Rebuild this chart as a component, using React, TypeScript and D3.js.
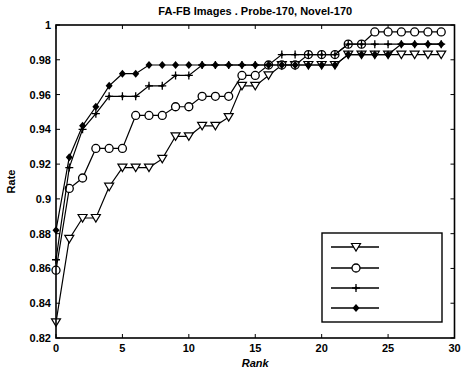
import React from "react";
import * as d3 from "d3";

// rank on the x axis
const ranks = [0, 1, 2, 3, 4, 5, 6, 7, 8, 9, 10, 11, 12, 13, 14, 15, 16, 17, 18, 19, 20, 21, 22, 23, 24, 25, 26, 27, 28, 29];

// recognition rate per method
const triSeries = [0.829, 0.877, 0.889, 0.889, 0.907, 0.918, 0.918, 0.918, 0.923, 0.936, 0.936, 0.942, 0.942, 0.947, 0.965, 0.965, 0.971, 0.977, 0.977, 0.977, 0.977, 0.977, 0.983, 0.983, 0.983, 0.983, 0.983, 0.983, 0.983, 0.983];
const circSeries = [0.859, 0.906, 0.912, 0.929, 0.929, 0.929, 0.948, 0.948, 0.948, 0.953, 0.953, 0.959, 0.959, 0.959, 0.971, 0.971, 0.977, 0.977, 0.977, 0.983, 0.983, 0.983, 0.989, 0.989, 0.996, 0.996, 0.996, 0.996, 0.996, 0.996];
const plusSeries = [0.865, 0.918, 0.940, 0.949, 0.959, 0.959, 0.959, 0.965, 0.965, 0.971, 0.971, 0.977, 0.977, 0.977, 0.977, 0.977, 0.977, 0.983, 0.983, 0.983, 0.983, 0.983, 0.989, 0.989, 0.989, 0.989, 0.989, 0.989, 0.989, 0.989];
const diamSeries = [0.882, 0.924, 0.942, 0.953, 0.965, 0.972, 0.972, 0.977, 0.977, 0.977, 0.977, 0.977, 0.977, 0.977, 0.977, 0.977, 0.977, 0.977, 0.977, 0.977, 0.977, 0.977, 0.983, 0.983, 0.983, 0.983, 0.989, 0.989, 0.989, 0.989];

const xTicks = [0, 5, 10, 15, 20, 25, 30];
const yTicks = [0.82, 0.84, 0.86, 0.88, 0.9, 0.92, 0.94, 0.96, 0.98, 1];

const titleText = "FA-FB Images . Probe-170, Novel-170";

const W = 461;
const H = 370;
const margin = { top: 25, right: 6, bottom: 32, left: 56 };
const font = "'Liberation Sans', Arial, sans-serif";

const Marker = ({ kind, x, y }: { kind: string; x: number; y: number }) => {
    if (kind === "tri") {
        return <path d={`M${x - 4.5},${y - 3.5}L${x + 4.5},${y - 3.5}L${x},${y + 4}Z`} fill="white" stroke="black" strokeWidth={1.2} />;
    }
    if (kind === "circ") {
        return <circle cx={x} cy={y} r={4} fill="white" stroke="black" strokeWidth={1.3} />;
    }
    if (kind === "plus") {
        return (
            <g>
                <path d={`M${x - 4},${y}L${x + 4},${y}M${x},${y - 4}L${x},${y + 4}`} stroke="black" strokeWidth={1.3} />
                <circle cx={x} cy={y} r={1.5} fill="black" />
            </g>
        );
    }
    return <path d={`M${x},${y - 4}L${x + 3.5},${y}L${x},${y + 4}L${x - 3.5},${y}Z`} fill="black" />;
};

export default function App() {
    const x = d3.scaleLinear().domain([0, 30]).range([margin.left, W - margin.right - 0.5]);
    const y = d3.scaleLinear().domain([0.82, 1]).range([H - margin.bottom, margin.top]);

    const series = [
        { kind: "tri", values: triSeries },
        { kind: "circ", values: circSeries },
        { kind: "plus", values: plusSeries },
        { kind: "diam", values: diamSeries },
    ];

    const lineGen = d3.line<number>()
        .x((d, i) => x(ranks[i]))
        .y((d) => y(d));

    const x0 = x(0), x1 = x(30), y0 = y(0.82), y1 = y(1);

    // legend box position
    const lg = { left: 322, top: 233, right: 442, bottom: 322 };
    const rowY = [247, 268, 288, 308];

    return (
        <svg width={W} height={H} style={{ position: "absolute", left: 0, top: 0, background: "white" }} fontFamily={font}>
            <rect x={0} y={0} width={W} height={H} fill="white" />
            <text x={(x0 + x1) / 2} y={15} textAnchor="middle" fontSize={11} fontWeight="bold">{titleText}</text>

            {/* ticks inward on all four sides */}
            {xTicks.map((t) => (
                <g key={"xt" + t}>
                    <line x1={x(t)} x2={x(t)} y1={y0} y2={y0 - 4} stroke="black" />
                    <line x1={x(t)} x2={x(t)} y1={y1} y2={y1 + 4} stroke="black" />
                    <text x={x(t)} y={352} textAnchor="middle" fontSize={11} fontWeight="bold">{t}</text>
                </g>
            ))}
            {yTicks.map((t) => (
                <g key={"yt" + t}>
                    <line x1={x0} x2={x0 + 4} y1={y(t)} y2={y(t)} stroke="black" />
                    <line x1={x1} x2={x1 - 4} y1={y(t)} y2={y(t)} stroke="black" />
                    <text x={51} y={y(t) + 4} textAnchor="end" fontSize={11} fontWeight="bold">{d3.format("~g")(t)}</text>
                </g>
            ))}
            <text x={(x0 + x1) / 2} y={367} textAnchor="middle" fontSize={11} fontWeight="bold" fontStyle="italic">Rank</text>
            <text transform={`translate(15,${(y0 + y1) / 2}) rotate(-90)`} textAnchor="middle" fontSize={11} fontWeight="bold">Rate</text>

            {series.map((s) => (
                <g key={s.kind}>
                    <path d={lineGen(s.values) || ""} fill="none" stroke="black" strokeWidth={1.2} />
                    {s.values.map((v, i) => (
                        <Marker key={i} kind={s.kind} x={x(ranks[i])} y={y(v)} />
                    ))}
                </g>
            ))}

            <rect x={x0} y={y1} width={x1 - x0} height={y0 - y1} fill="none" stroke="black" strokeWidth={1.6} />

            {/* legend, no labels in the original */}
            <rect x={lg.left} y={lg.top} width={lg.right - lg.left} height={lg.bottom - lg.top} fill="white" stroke="black" strokeWidth={1.4} />
            {series.map((s, i) => (
                <g key={"lg" + s.kind}>
                    <line x1={331} x2={379} y1={rowY[i]} y2={rowY[i]} stroke="black" strokeWidth={1.4} />
                    <Marker kind={s.kind} x={356} y={rowY[i]} />
                </g>
            ))}
        </svg>
    );
}
